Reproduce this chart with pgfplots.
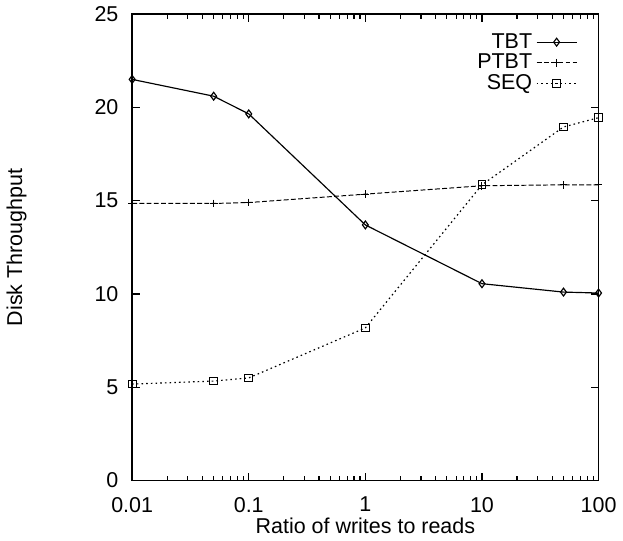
\documentclass[border=0pt]{standalone}
\usepackage{fontspec}
\setmainfont{Liberation Sans}
\usepackage{pgfplots}
\pgfplotsset{compat=1.18}

\begin{document}
\begin{tikzpicture}
\begin{axis}[
    xmode=log,
    width=239pt, height=239pt,
    scale only axis,
    xmin=0.01, xmax=100,
    ymin=0, ymax=25,
    xtick={0.01,0.1,1,10,100},
    xticklabels={0.01,0.1,1,10,100},
    ytick={0,5,10,15,20,25},
    /pgf/number format/assume math mode=true,
    tick align=inside,
    tick pos=both,
    major tick length=4pt,
    minor tick length=2.5pt,
    axis line style={line width=0.8pt},
    every tick/.style={line width=0.6pt, black},
    tick label style={font=\fontsize{11}{12}\selectfont},
    yticklabel style={xshift=-3.5pt},
    xticklabel style={yshift=-5pt},
    label style={font=\fontsize{11}{12}\selectfont},
    xlabel={Ratio of writes to reads},
    ylabel={Disk Throughput},
    xlabel style={yshift=4pt},
    ylabel style={yshift=28pt},
    legend style={draw=none, fill=none, at={(0.955,0.968)}, anchor=north east,
        inner sep=0pt,
        font=\fontsize{11}{12}\selectfont, row sep=-2.5pt,
        legend cell align=right},
    legend plot pos=right,
    legend image code/.code={%
        \draw[mark repeat=2, mark phase=2, #1]
            plot coordinates {(0cm,0cm) (0.36cm,0cm) (0.72cm,0cm)};},
]
\addplot[black, line width=0.6pt, mark=diamond, mark size=2pt,
    mark options={solid, line width=0.6pt}]
coordinates {
    (0.01,21.5) (0.05,20.6) (0.1,19.65) (1,13.7) (10,10.55) (50,10.1) (100,10.05)
};
\addlegendentry{TBT}
\addplot[black, line width=0.5pt, dash pattern=on 2.5pt off 1.2pt, mark=+, mark size=2pt,
    mark options={solid, line width=0.5pt}]
coordinates {
    (0.01,14.85) (0.05,14.85) (0.1,14.9) (1,15.35) (10,15.8) (50,15.85) (100,15.85)
};
\addlegendentry{PTBT}
\addplot[black, line width=0.6pt, dash pattern=on 0.8pt off 1.6pt, mark=square, mark size=2pt,
    mark options={solid, line width=0.5pt}]
coordinates {
    (0.01,5.17) (0.05,5.33) (0.1,5.5) (1,8.18) (10,15.85) (50,18.95) (100,19.45)
};
\addlegendentry{SEQ}
\end{axis}
\end{tikzpicture}
\end{document}
